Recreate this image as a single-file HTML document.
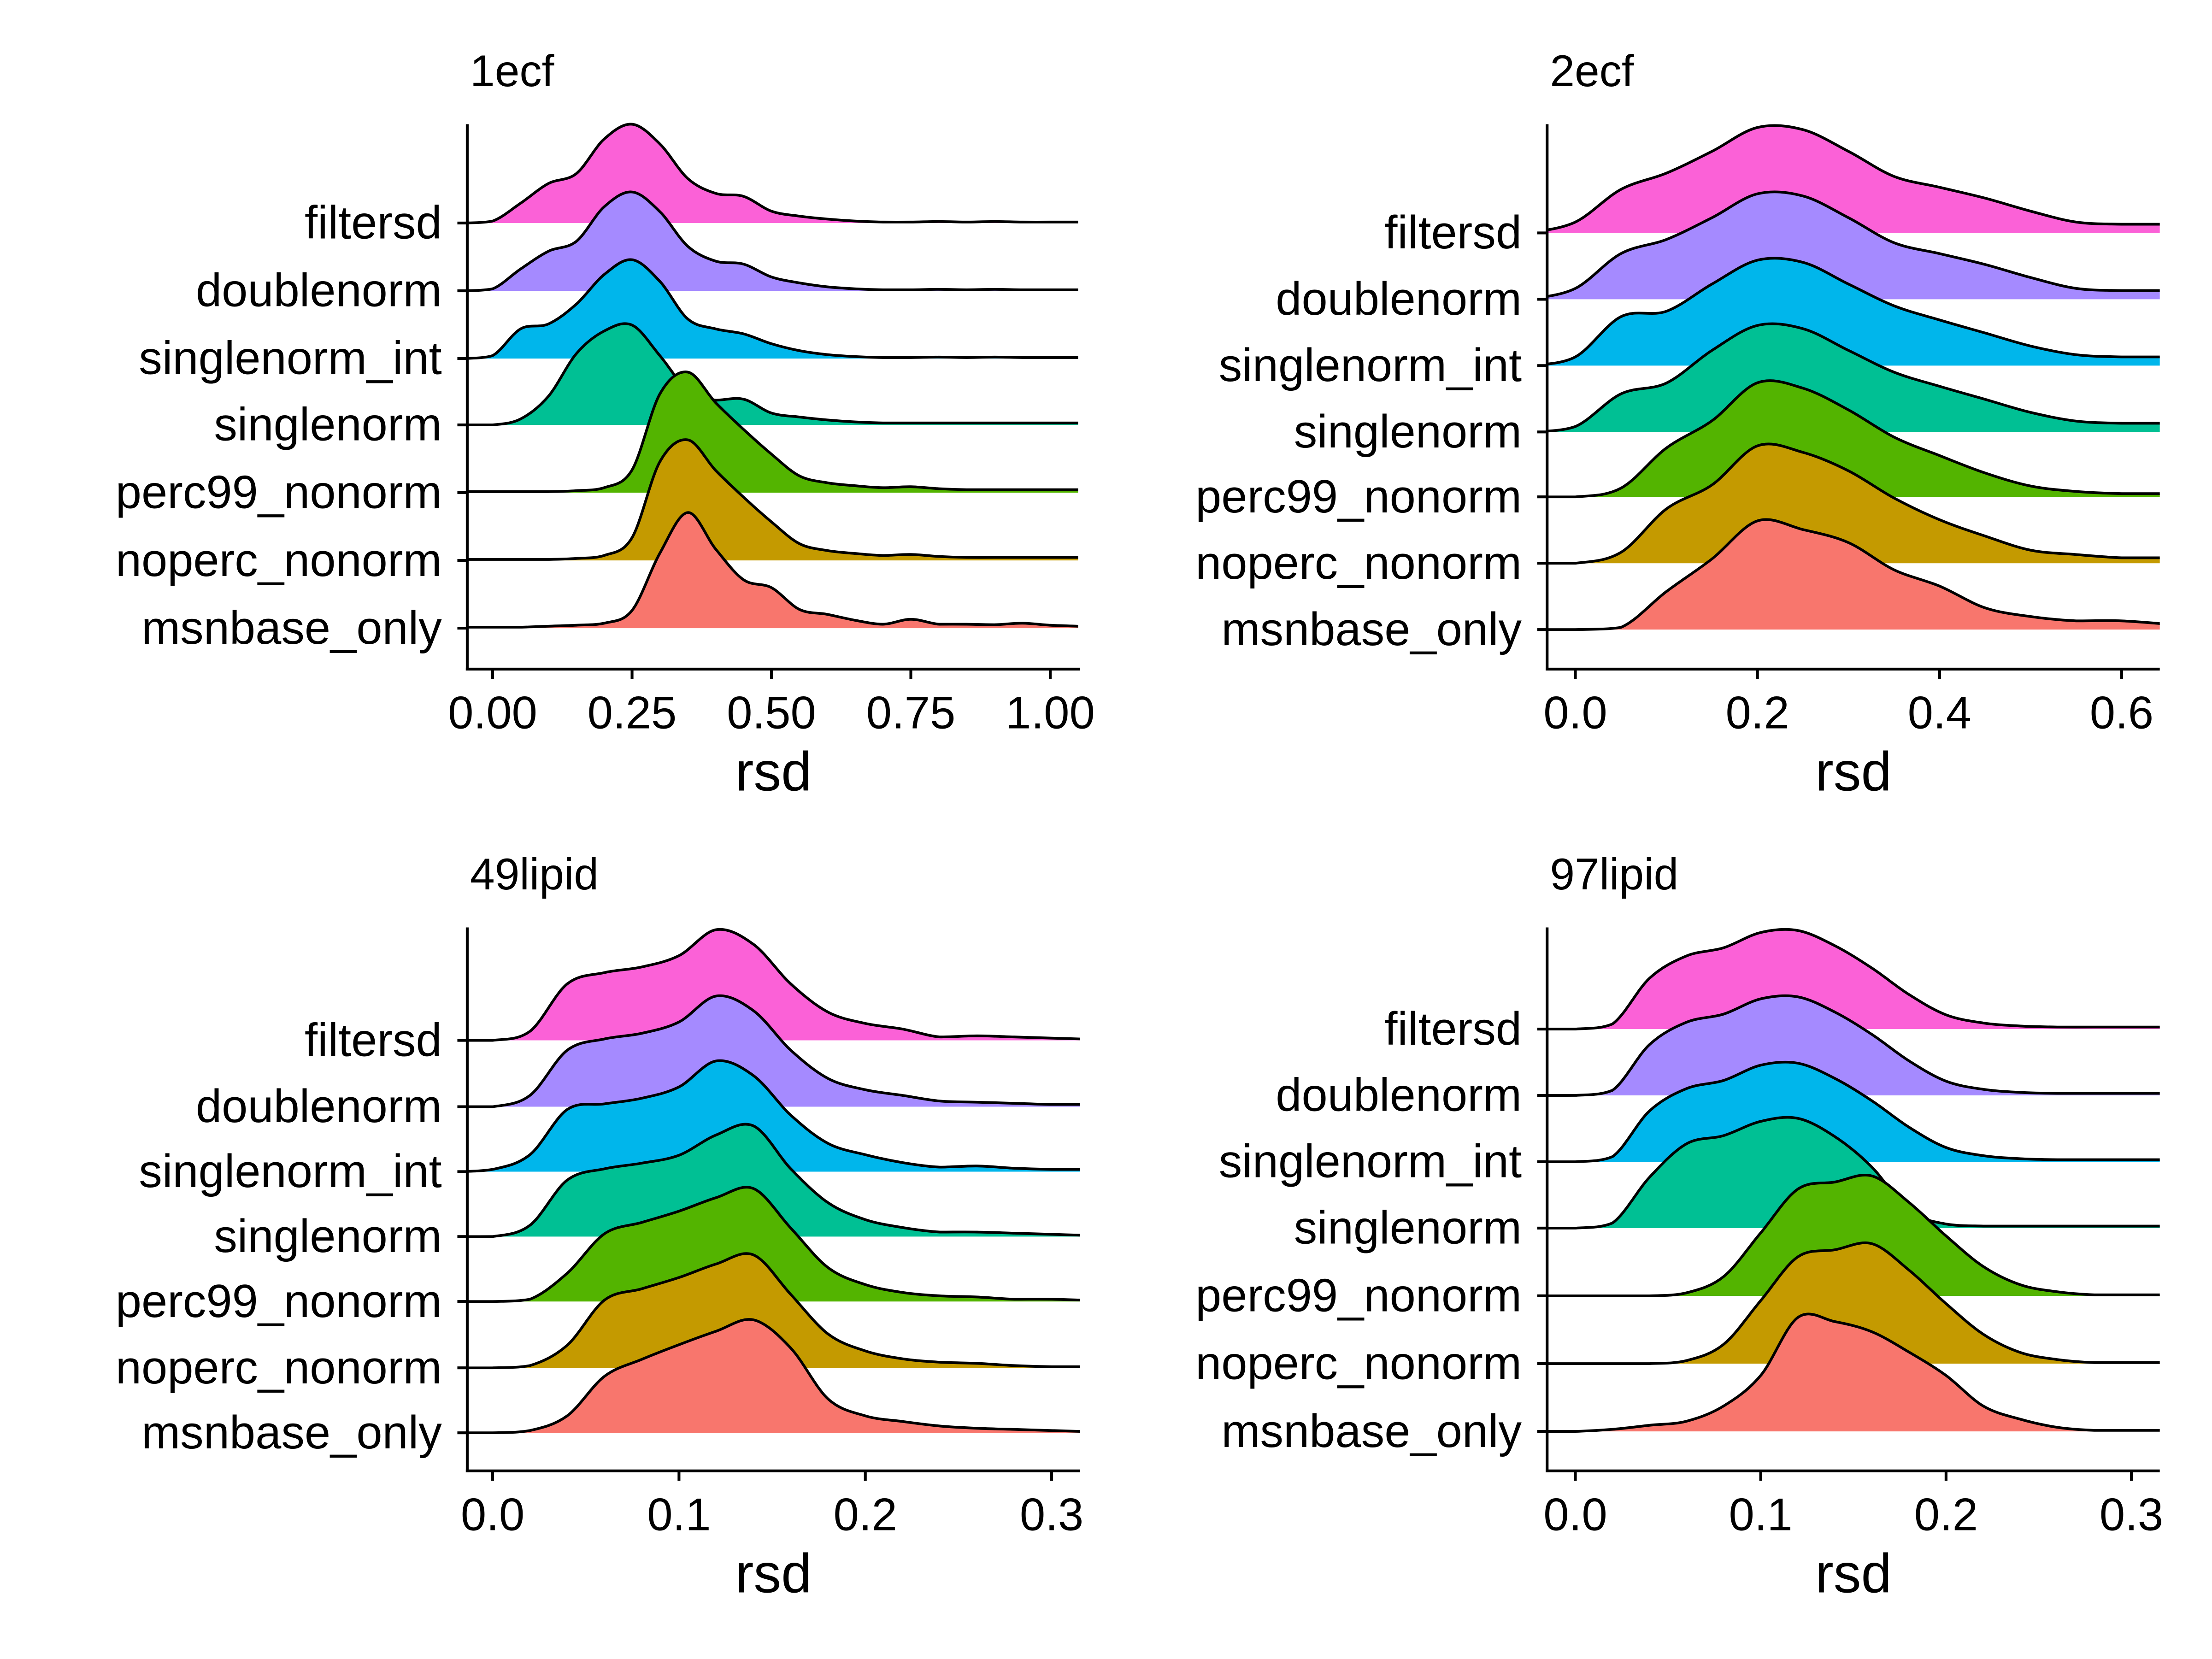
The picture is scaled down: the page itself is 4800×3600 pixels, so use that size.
<!DOCTYPE html>
<html><head><meta charset="utf-8"><style>
html,body{margin:0;padding:0;background:#fff;}
svg{display:block;}
text{font-family:"Liberation Sans",Arial,sans-serif;fill:#000;}
</style></head><body>
<svg id="chart" width="4800" height="3600" viewBox="0 0 1567 1175.25" xmlns="http://www.w3.org/2000/svg">
<rect width="1567" height="1176" fill="#fff"/>
</svg>
<script>
const categories = ["filtersd","doublenorm","singlenorm_int","singlenorm","perc99_nonorm","noperc_nonorm","msnbase_only"];
const colors = ["#FB61D7","#A58AFF","#00B6EB","#00C094","#53B400","#C49A00","#F8766D"];
const panelTitles = ["1ecf","2ecf","49lipid","97lipid"];

const grid1 = [-0.05,0,0.05,0.1,0.15,0.2,0.25,0.3,0.35,0.4,0.45,0.5,0.55,0.6,0.65,0.7,0.75,0.8,0.85,0.9,0.95,1,1.05];
const p1_filtersd = [0,.02,.2,.4,.5,.85,1.0,.8,.45,.3,.27,.12,.07,.04,.02,.01,.01,.015,.01,.015,.01,.01,.01];
const p1_doublenorm = [0,.02,.22,.4,.5,.85,1.0,.8,.45,.3,.27,.14,.08,.04,.02,.01,.01,.015,.01,.015,.01,.01,.01];
const p1_singlenorm_int = [0,.03,.3,.35,.55,.85,1.0,.78,.4,.3,.25,.15,.08,.04,.02,.01,.01,.015,.01,.015,.01,.01,.01];
const p1_singlenorm = [0,0,.06,.29,.72,.95,1.01,.7,.35,.25,.26,.12,.08,.05,.03,.02,.02,.02,.02,.02,.02,.02,.02];
const p1_perc99 = [.01,.01,.01,.01,.02,.05,.23,1.0,1.22,.91,.64,.39,.17,.1,.07,.05,.06,.04,.03,.03,.03,.03,.03];
const p1_noperc = [.01,.01,.01,.01,.02,.05,.23,1.0,1.22,.91,.64,.39,.17,.1,.07,.05,.06,.04,.03,.03,.03,.03,.03];
const p1_msnbase = [.01,.01,.01,.02,.03,.05,.18,.76,1.17,.8,.49,.41,.19,.14,.08,.04,.09,.04,.04,.035,.05,.03,.02];

const grid2 = [-0.05,0,0.05,0.1,0.15,0.2,0.25,0.3,0.35,0.4,0.45,0.5,0.55,0.6,0.65];
const p2_filtersd = [0,.1,.4,.55,.75,.97,.95,.75,.52,.42,.32,.2,.1,.08,.08];
const p2_doublenorm = [0,.1,.42,.55,.75,.97,.95,.75,.52,.42,.32,.2,.1,.08,.08];
const p2_singlenorm_int = [0,.08,.45,.5,.75,.97,.95,.75,.55,.42,.3,.18,.1,.08,.08];
const p2_singlenorm = [0,.05,.35,.45,.75,.98,.95,.75,.55,.42,.3,.18,.1,.08,.08];
const p2_perc99 = [0,0,.08,.45,.7,1.05,1.0,.8,.55,.38,.22,.1,.05,.03,.03];
const p2_noperc = [0,0,.1,.5,.72,1.08,1.02,.85,.6,.4,.25,.12,.08,.05,.05];
const p2_msnbase = [0,0,.02,.35,.65,1.0,.92,.8,.55,.4,.2,.12,.08,.08,.05];

const grid3 = [-0.02,0,0.02,0.04,0.06,0.08,0.1,0.12,0.14,0.16,0.18,0.2,0.22,0.24,0.26,0.28,0.3,0.32];
const p3_filtersd = [0,0,.08,.5,.6,.65,.75,.98,.85,.5,.25,.15,.1,.03,.04,.03,.02,.01];
const p3_doublenorm = [0,0,.1,.5,.6,.65,.75,.98,.85,.5,.25,.15,.1,.05,.04,.03,.02,.02];
const p3_singlenorm_int = [0,.02,.15,.55,.6,.65,.75,.98,.85,.5,.25,.15,.08,.04,.05,.03,.02,.02];
const p3_singlenorm = [0,0,.1,.5,.6,.65,.72,.9,.98,.6,.3,.15,.08,.04,.04,.03,.02,.01];
const p3_perc99 = [0,0,.02,.25,.6,.7,.8,.92,1.0,.65,.3,.15,.08,.05,.04,.02,.02,.01];
const p3_noperc = [0,0,.02,.2,.6,.7,.8,.92,1.0,.65,.3,.15,.08,.05,.04,.02,.01,.01];
const p3_msnbase = [0,0,.02,.15,.5,.65,.78,.9,1.0,.75,.3,.15,.1,.06,.04,.03,.02,.01];

const grid4 = [-0.02,0,0.02,0.04,0.06,0.08,0.1,0.12,0.14,0.16,0.18,0.2,0.22,0.24,0.26,0.28,0.3,0.32];
const p4_filtersd = [0,0,.05,.5,.72,.8,.95,.97,.82,.6,.34,.14,.06,.03,.02,.02,.02,.02];
const p4_doublenorm = [0,0,.05,.5,.72,.8,.95,.97,.82,.6,.34,.14,.06,.03,.02,.02,.02,.02];
const p4_singlenorm_int = [0,0,.05,.5,.72,.8,.95,.97,.82,.6,.34,.14,.06,.03,.02,.02,.02,.02];
const p4_singlenorm = [0,0,.05,.5,.83,.91,1.05,1.08,.9,.6,.17,.04,.02,.02,.02,.02,.02,.02];
const p4_perc99 = [0,0,0,0,.03,.19,.62,1.05,1.12,1.18,.92,.59,.29,.11,.04,.01,.01,.01];
const p4_noperc = [0,0,0,0,.03,.19,.62,1.05,1.12,1.18,.92,.59,.29,.11,.04,.01,.01,.01];
const p4_msnbase = [0,0,.02,.06,.1,.25,.55,1.12,1.08,.98,.78,.55,.25,.12,.04,.01,.01,.01];

const xTicks1 = [0,0.25,0.5,0.75,1.0];
const xTickLabels1 = ["0.00","0.25","0.50","0.75","1.00"];
const xTicks2 = [0,0.2,0.4,0.6];
const xTickLabels2 = ["0.0","0.2","0.4","0.6"];
const xTicks3 = [0,0.1,0.2,0.3];
const xTickLabels3 = ["0.0","0.1","0.2","0.3"];

const panels = [
  {title:panelTitles[0], x0:331,x1:765,yTop:88,yBot:474, ox:349, sx:395, k:70,
   base:[158,206,254,301,349,397,445], grid:grid1,
   series:[p1_filtersd,p1_doublenorm,p1_singlenorm_int,p1_singlenorm,p1_perc99,p1_noperc,p1_msnbase],
   ticks:xTicks1, tl:xTickLabels1},
  {title:panelTitles[1], x0:1096,x1:1530,yTop:88,yBot:474, ox:1116, sx:645, k:77,
   base:[165,212,259,306,352,399,446], grid:grid2,
   series:[p2_filtersd,p2_doublenorm,p2_singlenorm_int,p2_singlenorm,p2_perc99,p2_noperc,p2_msnbase],
   ticks:xTicks2, tl:xTickLabels2},
  {title:panelTitles[2], x0:331,x1:765,yTop:657,yBot:1042, ox:349, sx:1320, k:80,
   base:[737,784,830,876,922,969,1015], grid:grid3,
   series:[p3_filtersd,p3_doublenorm,p3_singlenorm_int,p3_singlenorm,p3_perc99,p3_noperc,p3_msnbase],
   ticks:xTicks3, tl:xTickLabels3},
  {title:panelTitles[3], x0:1096,x1:1530,yTop:657,yBot:1042, ox:1116, sx:1313, k:72,
   base:[729,776,823,870,918,966,1014], grid:grid4,
   series:[p4_filtersd,p4_doublenorm,p4_singlenorm_int,p4_singlenorm,p4_perc99,p4_noperc,p4_msnbase],
   ticks:xTicks3, tl:xTickLabels3}
];

const NS = "http://www.w3.org/2000/svg";
const svg = document.getElementById("chart");
function mk(tag, attrs, parent){
  const e = document.createElementNS(NS, tag);
  for (const a in attrs) e.setAttribute(a, attrs[a]);
  (parent||svg).appendChild(e);
  return e;
}
function curvePath(pts){
  let d = "M"+pts[0][0].toFixed(2)+","+pts[0][1].toFixed(2);
  for (let i=0;i<pts.length-1;i++){
    const p0=pts[Math.max(0,i-1)], p1=pts[i], p2=pts[i+1], p3=pts[Math.min(pts.length-1,i+2)];
    const c1x=p1[0]+(p2[0]-p0[0])/6, c1y=p1[1]+(p2[1]-p0[1])/6;
    const c2x=p2[0]-(p3[0]-p1[0])/6, c2y=p2[1]-(p3[1]-p1[1])/6;
    d += " C"+c1x.toFixed(2)+","+Math.min(c1y,Math.max(p1[1],p2[1])+0.01).toFixed(2)+" "+c2x.toFixed(2)+","+Math.min(c2y,Math.max(p1[1],p2[1])+0.01).toFixed(2)+" "+p2[0].toFixed(2)+","+p2[1].toFixed(2);
  }
  return d;
}

panels.forEach((P, pi) => {
  const g = mk("g", {});
  
  
  const xs = v => P.ox + v*P.sx;
  const clipId = "clip"+pi;
  const cp = mk("clipPath", {id:clipId}, g);
  mk("rect", {x:P.x0, y:P.yTop-40, width:P.x1-P.x0, height:P.yBot-P.yTop+40}, cp);
  const plot = mk("g", {"clip-path":"url(#"+clipId+")"}, g);
  
  
  P.series.forEach((vals, si) => {
    const b = P.base[si];
    const pts = P.grid.map((v,j) => [xs(v), b - vals[j]*P.k]);
    const cd = curvePath(pts);
    const fill = mk("path", {d: cd+" L"+pts[pts.length-1][0]+","+b+" L"+pts[0][0]+","+b+" Z", fill:colors[si], stroke:"none"}, plot);
    
    
    const line = mk("path", {d: cd, fill:"none", stroke:"#000", "stroke-width":1.9, "stroke-linejoin":"round"}, plot);
    
    
  });
  const ya = mk("line", {x1:P.x0, x2:P.x0, y1:P.yTop, y2:P.yBot+1, stroke:"#000", "stroke-width":2}, g);
  
  
  const xa = mk("line", {x1:P.x0-1, x2:P.x1, y1:P.yBot, y2:P.yBot, stroke:"#000", "stroke-width":2}, g);
  
  
  categories.forEach((c, si) => {
    const y = P.base[si];
    mk("line", {x1:P.x0-7, x2:P.x0, y1:y, y2:y, stroke:"#000", "stroke-width":2}, g);
    const t = mk("text", {x:P.x0-18, y:y+11, "text-anchor":"end", "font-size":33}, g);
    t.textContent = c;
    
    
  });
  P.ticks.forEach((v, ti) => {
    const x = xs(v);
    mk("line", {x1:x, x2:x, y1:P.yBot, y2:P.yBot+7, stroke:"#000", "stroke-width":2}, g);
    const t = mk("text", {x:x, y:P.yBot+42, "text-anchor":"middle", "font-size":32.5}, g);
    t.textContent = P.tl[ti];
    
    
  });
  const xt = mk("text", {x:(P.x0+P.x1)/2, y:P.yBot+86, "text-anchor":"middle", "font-size":39}, g);
  xt.textContent = "rsd";
  
  
  const tt = mk("text", {x:P.x0+2, y:P.yTop-27, "font-size":31.5}, g);
  tt.textContent = P.title;
  
  
});
</script>
</body></html>
